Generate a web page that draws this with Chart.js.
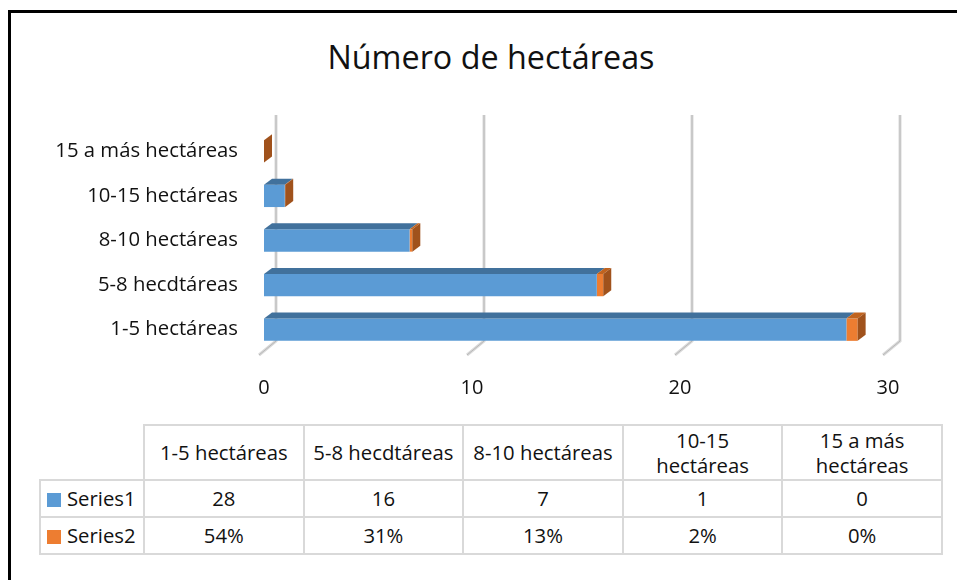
<!DOCTYPE html>
<html>
<head>
<meta charset="utf-8">
<title>Número de hectáreas</title>
<script src="https://cdn.jsdelivr.net/npm/chart.js@4.4.0/dist/chart.umd.min.js"></script>
<style>
    body { margin: 0; background: #fff; font-family: 'Open Sans', sans-serif; color: #111; }
    #wrap { position: relative; width: 957px; height: 580px; overflow: hidden; }
    #frame { position: absolute; left: 8px; top: 10px; width: 990px; height: 620px; border-left: 3px solid #000; border-top: 3px solid #000; }
    #chartTitle { position: absolute; left: 0; top: 36px; width: 982px; text-align: center; font-size: 32.3px; line-height: 40px; }
    #dataTable { position: absolute; left: 39px; top: 424px; border-collapse: collapse; table-layout: fixed; width: 902px; font-size: 20.3px; }
    #dataTable td { border: 2px solid #d9d9d9; text-align: center; padding: 0 6px; line-height: 25px; }
    #dataTable tr.head td { height: 53px; }
    #dataTable tr.row td { height: 35px; }
    #dataTable td.corner { border-top: none; border-left: none; }
    #dataTable td.name { text-align: left; padding-left: 6px; white-space: nowrap; }
    .key { display: inline-block; width: 14px; height: 14px; margin-right: 6px; vertical-align: -1px; }
</style>
</head>
<body>
<div id="wrap">
    <div id="frame"></div>
    <div id="chartTitle">Número de hectáreas</div>
    <canvas id="hectareChart" width="957" height="424" style="position:absolute;left:0;top:0;"></canvas>
    <table id="dataTable"></table>
</div>
<script>
const categories = ['1-5 hectáreas', '5-8 hecdtáreas', '8-10 hectáreas', '10-15 hectáreas', '15 a más hectáreas'];
const series1 = [28, 16, 7, 1, 0];
const series2 = [0.54, 0.31, 0.13, 0.02, 0];
const xTicks = [0, 10, 20, 30];
const seriesNames = ['Series1', 'Series2'];
const seriesColors = ['#5b9bd5', '#ed7d31'];
const topColors = ['#41719c', '#c0631f'];
const sideColors = ['#3c6b96', '#a0521c'];

// 3D look: gridlines on the back wall, top and side faces on the bars
const bar3d = {
    id: 'bar3d',
    beforeDatasetsDraw(chart) {
        const ctx = chart.ctx;
        const area = chart.chartArea;
        const xs = chart.scales.x;
        ctx.save();
        xTicks.forEach(v => {
            const x = xs.getPixelForValue(v);
            ctx.beginPath();
            ctx.moveTo(x + 12, area.top - 14);
            ctx.lineTo(x + 12, area.bottom - 11);
            ctx.lineTo(x - 5, area.bottom + 3);
            ctx.lineWidth = 3;
            ctx.strokeStyle = '#d9d9d9';
            ctx.stroke();
            ctx.lineWidth = 1;
            ctx.strokeStyle = '#b8b8b8';
            ctx.stroke();
        });
        ctx.restore();
    },
    afterDatasetsDraw(chart) {
        const ctx = chart.ctx;
        const dx = 8, dy = -6;
        const last = chart.data.datasets.length - 1;
        ctx.save();
        chart.data.datasets.forEach((ds, di) => {
            chart.getDatasetMeta(di).data.forEach(bar => {
                const p = bar.getProps(['x', 'y', 'base', 'height'], true);
                const top = p.y - p.height / 2;
                const bot = p.y + p.height / 2;
                const left = Math.min(p.base, p.x);
                const right = Math.max(p.base, p.x);
                ctx.fillStyle = topColors[di];
                ctx.beginPath();
                ctx.moveTo(left, top);
                ctx.lineTo(left + dx, top + dy);
                ctx.lineTo(right + dx, top + dy);
                ctx.lineTo(right, top);
                ctx.closePath();
                ctx.fill();
                if (di === last) {
                    ctx.fillStyle = sideColors[di];
                    ctx.beginPath();
                    ctx.moveTo(right, top);
                    ctx.lineTo(right + dx, top + dy);
                    ctx.lineTo(right + dx, bot + dy);
                    ctx.lineTo(right, bot);
                    ctx.closePath();
                    ctx.fill();
                }
            });
        });
        ctx.restore();
    }
};

new Chart(document.getElementById('hectareChart').getContext('2d'), {
    type: 'bar',
    data: {
        labels: categories,
        datasets: [{
            label: seriesNames[0],
            data: series1,
            backgroundColor: seriesColors[0],
            barPercentage: 0.5,
            categoryPercentage: 1
        }, {
            label: seriesNames[1],
            data: series2,
            backgroundColor: seriesColors[1],
            barPercentage: 0.5,
            categoryPercentage: 1
        }]
    },
    options: {
        indexAxis: 'y',
        responsive: false,
        animation: false,
        layout: { padding: { top: 129, right: 69, left: 0, bottom: 0 } },
        plugins: {
            legend: { display: false },
            title: { display: false },
            tooltip: { enabled: false }
        },
        scales: {
            x: {
                stacked: true,
                min: 0,
                max: 30,
                afterBuildTicks: function (scale) {
                    scale.ticks = xTicks.map(v => ({ value: v }));
                },
                grid: { display: false, drawTicks: false },
                border: { display: false },
                ticks: { color: '#111', padding: 24, font: { family: 'Open Sans', size: 20 } }
            },
            y: {
                stacked: true,
                reverse: true,
                afterFit: function (scale) { scale.width = 264; },
                grid: { display: false, drawTicks: false },
                border: { display: false },
                ticks: { color: '#111', padding: 26, font: { family: 'Open Sans', size: 20.3 } }
            }
        }
    },
    plugins: [bar3d]
});

// data table under the chart
let tableHtml = '<colgroup><col style="width:104px">';
categories.forEach(() => { tableHtml += '<col style="width:159.6px">'; });
tableHtml += '</colgroup><tr class="head"><td class="corner"></td>';
categories.forEach(c => { tableHtml += `<td>${c}</td>`; });
tableHtml += '</tr>';
[series1, series2].forEach((values, si) => {
    tableHtml += `<tr class="row"><td class="name"><span class="key" style="background:${seriesColors[si]}"></span>${seriesNames[si]}</td>`;
    values.forEach(v => {
        const text = si === 1 ? Math.round(v * 100) + '%' : v;
        tableHtml += `<td>${text}</td>`;
    });
    tableHtml += '</tr>';
});
document.getElementById('dataTable').innerHTML = tableHtml;
</script>
</body>
</html>
